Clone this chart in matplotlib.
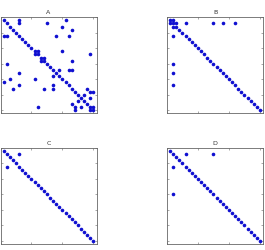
import matplotlib
matplotlib.use("Agg")
import matplotlib.pyplot as plt
import numpy as np

n = 30  # matrix size, all four panels

# off-diagonal nonzeros (row, col), upper part; each one is mirrored
offdiag_A = [(1, 6), (2, 6), (2, 15), (1, 21), (3, 20), (4, 23), (6, 18), (6, 22),
             (11, 12), (13, 14), (11, 20), (12, 29), (14, 23), (17, 19), (17, 22),
             (17, 23), (23, 28), (24, 29), (24, 30), (25, 27), (26, 29), (29, 30)]
offdiag_B = [(1, 2), (2, 3), (2, 6), (2, 15), (2, 18), (2, 22)]
offdiag_C = [(2, 6)]
offdiag_D = [(2, 6), (2, 15)]

titles = ["A", "B", "C", "D"]
patterns = [offdiag_A, offdiag_B, offdiag_C, offdiag_D]


def build(offdiag):
    M = np.eye(n)
    for r, c in offdiag:
        M[r - 1, c - 1] = 1
        M[c - 1, r - 1] = 1
    return M


W, H = 265, 251
fig = plt.figure(figsize=(W / 100, H / 100), dpi=100)

# axes boxes in pixels: left, top
boxes = [(0.5, 18.3), (167, 18.3), (0.5, 149), (167, 149)]
size = 96

for (x0, y0), title, off in zip(boxes, titles, patterns):
    ax = fig.add_axes([x0 / W, (H - y0 - size) / H, size / W, size / H])
    M = build(off)
    rows, cols = np.nonzero(M)
    ax.plot(cols + 1, rows + 1, "o", color="#1010d0", markersize=2.6,
            markeredgewidth=0)
    ax.set_xlim(0, n + 1)
    ax.set_ylim(n + 1, 0)
    ax.set_xticks([0, 10, 20, 30])
    ax.set_yticks([0, 5, 10, 15, 20, 25, 30])
    ax.tick_params(direction="in", length=1.5, width=0.4, color="#666666",
                   top=True, right=True, labelbottom=False, labelleft=False)
    for s in ax.spines.values():
        s.set_color("#666666")
        s.set_linewidth(0.6)
    ax.set_title(title, fontsize=4.5, color="#333333", pad=3)

fig.savefig("out.png", dpi=100)
